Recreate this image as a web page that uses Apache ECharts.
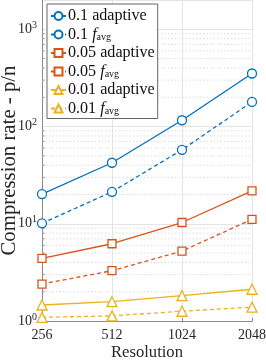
<!DOCTYPE html>
<html>
<head>
<meta charset="utf-8">
<script src="https://cdn.jsdelivr.net/npm/echarts@6/dist/echarts.min.js"></script>
<style>html,body{margin:0;padding:0;background:#fff;}#c{width:266px;height:360px;}</style>
</head>
<body>
<div id="c"></div>
<script>
var resolutions = ['256', '512', '1024', '2048'];
var adaptive01 = [20.2, 42.4, 116, 351];
var favg01 = [10.1, 21.3, 57.6, 179];
var adaptive005 = [4.41, 6.23, 10.3, 21.8];
var favg005 = [2.40, 3.29, 5.24, 11.1];
var adaptive001 = [1.46, 1.58, 1.82, 2.12];
var favg001 = [1.09, 1.13, 1.26, 1.39];
var yMin = 1, yMax = 2000;
var yTitle = 'Compression rate - p/n';
var xTitle = 'Resolution';
var minorValues = [];
[1, 10, 100, 1000].forEach(function (d) {
  for (var k = 2; k <= 9; k++) { if (d * k < yMax) minorValues.push(d * k); }
});

var FONT = 'Liberation Serif';
var BLUE = '#0072BD', RED = '#D95319', YEL = '#EDB120';

// fit font sizes to the widths seen in the reference
var mctx = document.createElement('canvas').getContext('2d');
function fitSize(text, target) {
  mctx.font = '20px "' + FONT + '"';
  var w = mctx.measureText(text).width;
  return Math.round(20 * target / w * 10) / 10;
}
var yTitleSize = fitSize(yTitle, 190);
var xTitleSize = fitSize(xTitle, 72);
var legendSize = fitSize('0.05 adaptive', 87);

function lineSeries(name, data, color, symbol, size, dashed) {
  return {
    name: name, type: 'line', data: data,
    symbol: symbol, symbolSize: size, showSymbol: true,
    lineStyle: { color: color, width: 1.3, type: dashed ? [4, 3] : 'solid' },
    itemStyle: { color: '#fff', borderColor: color, borderWidth: 1.3 },
    z: 5
  };
}

var chart = echarts.init(document.getElementById('c'), null, { renderer: 'canvas' });
chart.setOption({
  animation: false,
  grid: { left: 42, right: 14, top: 0, bottom: 39, containLabel: false, outerBoundsMode: 'none' },
  legend: {
    orient: 'vertical', left: 47, top: 4,
    backgroundColor: '#fff', borderColor: '#666', borderWidth: 1,
    padding: [4, 3, 2, 3],
    itemWidth: 15, itemHeight: 10, itemGap: 2.5,
    data: ['0.1 adaptive', '0.1 favg', '0.05 adaptive', '0.05 favg', '0.01 adaptive', '0.01 favg'],
    formatter: function (n) {
      var p = n.split(' ');
      if (p[1] === 'favg') return p[0] + ' {i|f}{s|avg}';
      return n;
    },
    textStyle: {
      fontFamily: FONT, fontSize: legendSize, lineHeight: 16, color: '#111', padding: [0, 0, 0, -3],
      rich: {
        i: { fontFamily: FONT, fontSize: legendSize, lineHeight: 16, fontStyle: 'italic', color: '#111' },
        s: { fontFamily: FONT, fontSize: 10, lineHeight: 16, color: '#111', padding: [6, 0, 0, 0] }
      }
    }
  },
  xAxis: {
    type: 'category', data: resolutions, boundaryGap: false,
    name: xTitle, nameLocation: 'middle', nameGap: 23, nameMoveOverlap: false,
    nameTextStyle: { fontFamily: FONT, fontSize: xTitleSize, color: '#262626' },
    axisLine: { lineStyle: { color: '#8a8a8a', width: 1 } },
    axisTick: { inside: true, length: 3, alignWithLabel: true, lineStyle: { color: '#8a8a8a' } },
    axisLabel: { fontFamily: FONT, fontSize: 14, color: '#262626', margin: 7 },
    splitLine: { show: true, lineStyle: { color: '#e4e4e4', width: 1 } }
  },
  yAxis: {
    type: 'log', logBase: 10, min: yMin, max: yMax,
    name: yTitle, nameLocation: 'middle', nameGap: 22, nameMoveOverlap: false,
    nameTextStyle: { fontFamily: FONT, fontSize: yTitleSize, color: '#262626' },
    axisLine: { show: true, lineStyle: { color: '#8a8a8a', width: 1 } },
    axisTick: { inside: true, length: 4, lineStyle: { color: '#8a8a8a' } },
    axisLabel: {
      showMaxLabel: false, margin: 5,
      formatter: function (v) {
        var e = Math.round(Math.log10(v));
        if (Math.abs(Math.log10(v) - e) > 1e-6) return '';
        return '{b|10}{s|' + e + '}';
      },
      rich: {
        b: { fontFamily: FONT, fontSize: 14, color: '#262626' },
        s: { fontFamily: FONT, fontSize: 10, color: '#262626', padding: [0, 0, 8, 0] }
      }
    },
    splitLine: { show: true, lineStyle: { color: '#e4e4e4', width: 1 } }
  },
  series: [
    lineSeries('0.1 adaptive', adaptive01, BLUE, 'circle', 9, false),
    lineSeries('0.1 favg', favg01, BLUE, 'circle', 9, true),
    lineSeries('0.05 adaptive', adaptive005, RED, 'rect', 8, false),
    lineSeries('0.05 favg', favg005, RED, 'rect', 8, true),
    lineSeries('0.01 adaptive', adaptive001, YEL, 'triangle', 10, false),
    lineSeries('0.01 favg', favg001, YEL, 'triangle', 10, true),
    {
      type: 'custom', silent: true, z: 1,
      data: minorValues,
      encode: { y: 0 },
      renderItem: function (params, api) {
        var v = api.value(0);
        var a = api.coord([0, v]);
        var b = api.coord([resolutions.length - 1, v]);
        return {
          type: 'group', children: [
            { type: 'line', shape: { x1: a[0], y1: a[1], x2: b[0], y2: b[1] },
              style: { stroke: '#dcdcdc', lineWidth: 1, lineDash: [1.5, 2] } },
            { type: 'line', shape: { x1: a[0], y1: a[1], x2: a[0] + 2.5, y2: a[1] },
              style: { stroke: '#8a8a8a', lineWidth: 1 } }
          ]
        };
      }
    }
  ]
});
</script>
</body>
</html>
